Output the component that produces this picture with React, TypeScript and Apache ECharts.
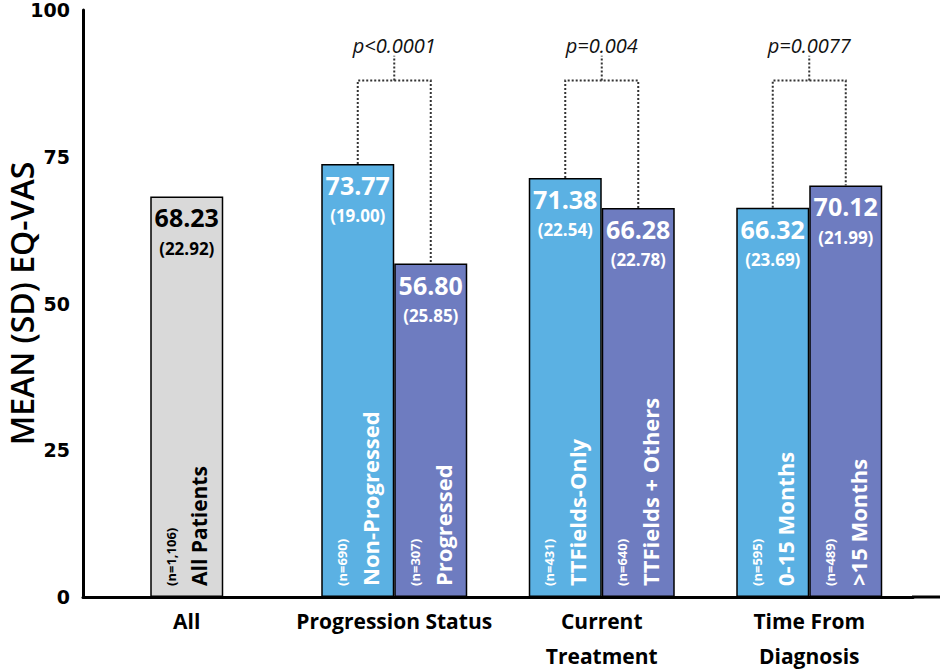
import React, { useEffect, useRef } from "react";
import * as echarts from "echarts";

const categories = ["All", "Progression Status", "Current\nTreatment", "Time From\nDiagnosis"];

const allMeans = [68.23, null, null, null];
const allSDs = ["22.92", "", "", ""];
const allNames = ["All Patients", "", "", ""];
const allNs = ["n=1,106", "", "", ""];

const leftMeans = [null, 73.77, 71.38, 66.32];
const leftSDs = ["", "19.00", "22.54", "23.69"];
const leftNames = ["", "Non-Progressed", "TTFields-Only", "0-15 Months"];
const leftNs = ["", "n=690", "n=431", "n=595"];

const rightMeans = [null, 56.8, 66.28, 70.12];
const rightSDs = ["", "25.85", "22.78", "21.99"];
const rightNames = ["", "Progressed", "TTFields + Others", ">15 Months"];
const rightNs = ["", "n=307", "n=640", "n=489"];

const pValues = ["", "p<0.0001", "p=0.004", "p=0.0077"];

const yTicks = [0, 25, 50, 75, 100];

const BAR_W = 73;
const FONT = "'Open Sans', 'DejaVu Sans', sans-serif";
const BLUE = "#5BB1E3";
const PURPLE = "#6E7CC0";
const GRAY = "#D9D9D9";

const GRID_LEFT = 83;
const GRID_TOP = 10;
const GRID_BOTTOM = 72;
const GRID_RIGHT = 32;

function toData(arr: (number | null)[]) {
  return arr.map((v) => (v == null ? "-" : v));
}

function topLabel(sds: string[], color: string) {
  return {
    show: true,
    position: "insideTop",
    distance: 6,
    formatter: (p: any) => `{v|${Number(p.value).toFixed(2)}}\n{sd|(${sds[p.dataIndex]})}`,
    rich: {
      v: { fontFamily: FONT, fontSize: 25, fontWeight: "bold", color, lineHeight: 30 },
      sd: { fontFamily: FONT, fontSize: 17, fontWeight: "bold", color, lineHeight: 32 },
    },
  };
}

function bottomLabel(names: string[], ns: string[], color: string, nameSize: number) {
  return {
    show: true,
    position: "insideBottom",
    rotate: 90,
    align: "left",
    verticalAlign: "middle",
    distance: 11,
    formatter: (p: any) => `{n|(${ns[p.dataIndex]})}\n{name|${names[p.dataIndex]}}`,
    rich: {
      n: { fontFamily: FONT, fontSize: 13, fontWeight: "bold", color, lineHeight: 24 },
      name: { fontFamily: FONT, fontSize: nameSize, fontWeight: "bold", color, lineHeight: 32 },
    },
  };
}

export default function App() {
  const ref = useRef<HTMLDivElement>(null);

  useEffect(() => {
    document.body.style.margin = "0";
    if (!ref.current) return;
    const chart = echarts.init(ref.current, undefined, { renderer: "svg" });

    const hiddenX = () => ({
      type: "category",
      data: categories,
      gridIndex: 0,
      show: false,
    });

    const bracketData = categories
      .map((_, i) => i)
      .filter((i) => leftMeans[i] != null && rightMeans[i] != null)
      .map((i) => [i, leftMeans[i], rightMeans[i]]);

    const option: any = {
      animation: false,
      backgroundColor: "#ffffff",
      grid: {
        left: GRID_LEFT,
        top: GRID_TOP,
        bottom: GRID_BOTTOM,
        right: GRID_RIGHT,
        containLabel: false,
        outerBoundsMode: "none",
      },
      xAxis: [
        {
          type: "category",
          data: categories,
          axisLine: { show: true, lineStyle: { color: "#000", width: 3 } },
          axisTick: { show: false },
          axisLabel: {
            interval: 0,
            margin: 6,
            fontFamily: FONT,
            fontSize: 21,
            fontWeight: "bold",
            color: "#000",
            lineHeight: 35,
          },
        },
        hiddenX(),
        hiddenX(),
      ],
      yAxis: {
        type: "value",
        min: 0,
        max: 100,
        interval: 25,
        name: "MEAN (SD) EQ-VAS",
        nameLocation: "middle",
        nameGap: 45,
        nameMoveOverlap: false,
        nameTextStyle: { fontFamily: FONT, fontSize: 32, fontWeight: 600, color: "#000", lineHeight: 34 },
        axisLine: { show: true, lineStyle: { color: "#000", width: 3 } },
        axisTick: { show: false },
        splitLine: { show: false },
        axisLabel: {
          margin: 13,
          fontFamily: "'DejaVu Sans', sans-serif",
          fontSize: 19,
          fontWeight: "bold",
          color: "#000",
          formatter: (v: number) => (yTicks.includes(v) ? String(v) : ""),
        },
      },
      series: [
        {
          name: "All",
          type: "bar",
          xAxisIndex: 2,
          barWidth: BAR_W,
          barGap: "-100%",
          data: toData(allMeans),
          itemStyle: { color: GRAY, borderColor: "#000", borderWidth: 1.5 },
          label: topLabel(allSDs, "#000"),
        },
        {
          name: "AllNames",
          type: "bar",
          xAxisIndex: 2,
          barWidth: BAR_W,
          barGap: "-100%",
          silent: true,
          z: 3,
          data: toData(allMeans),
          itemStyle: { color: "transparent", borderWidth: 0 },
          label: bottomLabel(allNames, allNs, "#000", 21),
        },
        {
          name: "Left",
          type: "bar",
          xAxisIndex: 0,
          barWidth: BAR_W,
          barGap: "0%",
          data: toData(leftMeans),
          itemStyle: { color: BLUE, borderColor: "#000", borderWidth: 1.5 },
          label: topLabel(leftSDs, "#fff"),
        },
        {
          name: "Right",
          type: "bar",
          xAxisIndex: 0,
          barWidth: BAR_W,
          barGap: "0%",
          data: toData(rightMeans),
          itemStyle: { color: PURPLE, borderColor: "#000", borderWidth: 1.5 },
          label: topLabel(rightSDs, "#fff"),
        },
        {
          name: "LeftNames",
          type: "bar",
          xAxisIndex: 1,
          barWidth: BAR_W,
          barGap: "0%",
          silent: true,
          z: 3,
          data: toData(leftMeans),
          itemStyle: { color: "transparent", borderWidth: 0 },
          label: bottomLabel(leftNames, leftNs, "#fff", 22),
        },
        {
          name: "RightNames",
          type: "bar",
          xAxisIndex: 1,
          barWidth: BAR_W,
          barGap: "0%",
          silent: true,
          z: 3,
          data: toData(rightMeans),
          itemStyle: { color: "transparent", borderWidth: 0 },
          label: bottomLabel(rightNames, rightNs, "#fff", 22),
        },
        {
          name: "Brackets",
          type: "custom",
          xAxisIndex: 0,
          yAxisIndex: 0,
          z: 5,
          silent: true,
          data: bracketData,
          renderItem: (params: any, api: any) => {
            const ci = api.value(0);
            const lv = api.value(1);
            const rv = api.value(2);
            const c = api.coord([ci, 0]);
            const cx = c[0];
            const xl = cx - BAR_W / 2;
            const xr = cx + BAR_W / 2;
            const yl = api.coord([ci, lv])[1];
            const yr = api.coord([ci, rv])[1];
            const yb = api.coord([ci, 88])[1];
            const yt = api.coord([ci, 92.2])[1];
            const ytxt = api.coord([ci, 94])[1];
            const ls = { stroke: "#333", lineWidth: 2, lineDash: [2, 2], fill: "none" };
            return {
              type: "group",
              children: [
                {
                  type: "polyline",
                  shape: { points: [[xl, yl], [xl, yb], [xr, yb], [xr, yr]] },
                  style: ls,
                },
                { type: "line", shape: { x1: cx, y1: yb, x2: cx, y2: yt }, style: ls },
                {
                  type: "text",
                  x: cx,
                  y: ytxt,
                  style: {
                    text: pValues[ci],
                    fontFamily: FONT,
                    fontSize: 20,
                    fontStyle: "italic",
                    fill: "#111",
                    align: "center",
                    verticalAlign: "middle",
                  },
                },
              ],
            };
          },
        },
      ],
      graphic: [
        {
          type: "line",
          shape: { x1: 945 - GRID_RIGHT - 1, y1: 669 - GRID_BOTTOM, x2: 940, y2: 669 - GRID_BOTTOM },
          style: { stroke: "#000", lineWidth: 3 },
        },
      ],
    };

    chart.setOption(option);
    return () => chart.dispose();
  }, []);

  return <div ref={ref} style={{ width: 945, height: 669 }} />;
}
